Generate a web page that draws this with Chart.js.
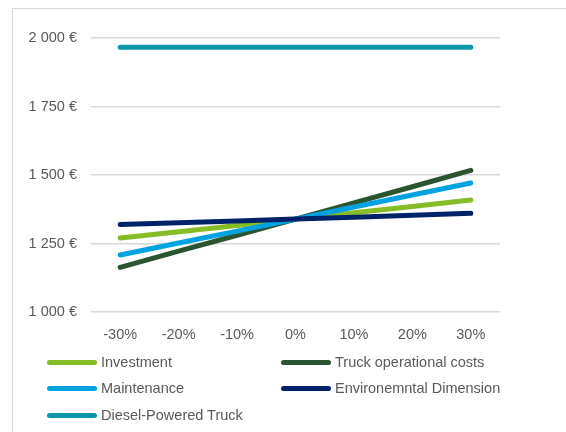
<!DOCTYPE html>
<html>
<head>
<meta charset="utf-8">
<script src="https://cdn.jsdelivr.net/npm/chart.js@4"></script>
<style>
  html, body { margin: 0; padding: 0; background: #fff; overflow: hidden; }
  #wrap { position: relative; width: 566px; height: 432px; overflow: hidden; }
  #frame { position: absolute; left: 12px; top: 8px; width: 700px; height: 600px; border: 1.5px solid #d9d9d9; }
  #chart { position: absolute; left: 0; top: 0; }
  #legend { position: absolute; left: 0; top: 0; font-family: 'Liberation Sans', Arial, sans-serif; font-size: 14.5px; color: #595959; }
  .item { position: absolute; display: flex; align-items: center; white-space: nowrap; height: 20px; }
  .swatch { width: 50px; height: 5px; border-radius: 3px; margin-right: 4px; }
</style>
</head>
<body>
<div id="wrap">
  <div id="frame"></div>
  <canvas id="chart" width="566" height="432"></canvas>
  <div id="legend"></div>
</div>
<script>
// Data
const categories = ['-30%', '-20%', '-10%', '0%', '10%', '20%', '30%'];
const investment = [1270, 1293, 1316, 1339, 1362, 1385, 1409];
const truckOperational = [1163, 1222, 1280, 1339, 1398, 1457, 1517];
const maintenance = [1208, 1252, 1295, 1339, 1383, 1427, 1471];
const environmental = [1319, 1326, 1332, 1339, 1346, 1353, 1360];
const diesel = [1966, 1966, 1966, 1966, 1966, 1966, 1966];
const yTicks = [1000, 1250, 1500, 1750, 2000];

const seriesNames = ['Investment', 'Truck operational costs', 'Maintenance', 'Environemntal Dimension', 'Diesel-Powered Truck'];
const seriesData = [investment, truckOperational, maintenance, environmental, diesel];
const seriesColors = ['#86bc25', '#2b5531', '#00a3e0', '#012169', '#0b97a7'];

const textColor = '#595959';
const font = { family: "'Liberation Sans', Arial, sans-serif", size: 14.5 };

// Format like "2 000 €"
const euro = (v) => {
  const s = String(v);
  return (s.length > 3 ? s.slice(0, -3) + ' ' + s.slice(-3) : s) + ' €';
};

const datasets = seriesNames.map((name, i) => ({
  label: name,
  data: seriesData[i],
  borderColor: seriesColors[i],
  backgroundColor: seriesColors[i],
  borderWidth: 5,
  borderCapStyle: 'round',
  pointRadius: 0,
  tension: 0
}));

// Draw the lines back to front like the reference (diesel first doesn't matter, env on top of green)
const drawOrder = [4, 1, 0, 2, 3];
drawOrder.forEach((idx, pos) => { datasets[idx].order = drawOrder.length - pos; });

new Chart(document.getElementById('chart'), {
  type: 'line',
  data: { labels: categories, datasets: datasets },
  options: {
    responsive: false,
    animation: false,
    layout: { padding: { top: 38, right: 66, left: 0, bottom: 0 } },
    scales: {
      x: {
        offset: true,
        grid: { display: false, drawTicks: false },
        border: { display: false },
        ticks: { color: textColor, font: font, padding: 14, maxRotation: 0 },
        afterFit: (scale) => { scale.height = 120; }
      },
      y: {
        min: 1000,
        max: 2000,
        afterBuildTicks: (scale) => { scale.ticks = yTicks.map(v => ({ value: v })); },
        grid: { color: '#d9d9d9', lineWidth: 1.5, drawTicks: false },
        border: { display: false },
        ticks: { color: textColor, font: font, padding: 14, callback: (v) => euro(v) },
        afterFit: (scale) => { scale.width = 91; }
      }
    },
    plugins: {
      legend: { display: false },
      tooltip: { enabled: false }
    }
  }
});

// Two-column legend under the plot
const legend = document.getElementById('legend');
const colX = [47, 281];
const rowY = [352, 378, 405];
seriesNames.forEach((name, i) => {
  const item = document.createElement('div');
  item.className = 'item';
  item.style.left = colX[i % 2] + 'px';
  item.style.top = rowY[Math.floor(i / 2)] + 'px';
  const sw = document.createElement('span');
  sw.className = 'swatch';
  sw.style.background = seriesColors[i];
  const label = document.createElement('span');
  label.textContent = name;
  item.appendChild(sw);
  item.appendChild(label);
  legend.appendChild(item);
});
</script>
</body>
</html>
